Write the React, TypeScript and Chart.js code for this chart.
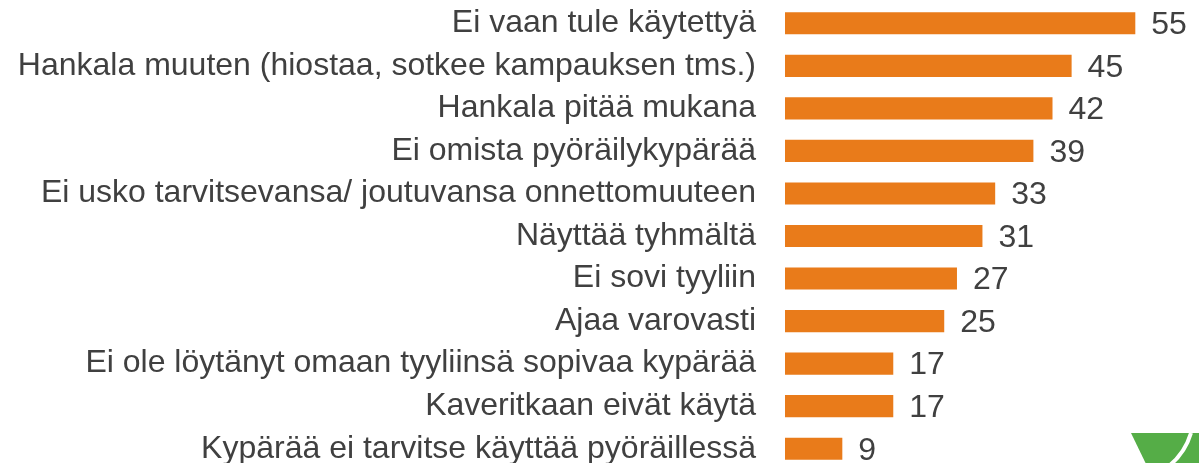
import React, { useEffect, useRef } from "react";
import { Chart, registerables } from "chart.js";

Chart.register(...registerables);

const categories: string[] = [
  "Ei vaan tule käytettyä",
  "Hankala muuten (hiostaa, sotkee kampauksen tms.)",
  "Hankala pitää mukana",
  "Ei omista pyöräilykypärää",
  "Ei usko tarvitsevansa/ joutuvansa onnettomuuteen",
  "Näyttää tyhmältä",
  "Ei sovi tyyliin",
  "Ajaa varovasti",
  "Ei ole löytänyt omaan tyyliinsä sopivaa kypärää",
  "Kaveritkaan eivät käytä",
  "Kypärää ei tarvitse käyttää pyöräillessä",
];

const values: number[] = [55, 45, 42, 39, 33, 31, 27, 25, 17, 17, 9];

const FONT_FAMILY = "'Liberation Sans', Arial, sans-serif";
const FONT_SIZE = 32;
const TEXT_COLOR = "#404040";
const BAR_COLOR = "#E97B1A";

const valueLabelPlugin = {
  id: "valueLabels",
  afterDatasetsDraw(chart: any) {
    const ctx = chart.ctx;
    const meta = chart.getDatasetMeta(0);
    ctx.save();
    ctx.font = `${FONT_SIZE}px ${FONT_FAMILY}`;
    ctx.fillStyle = TEXT_COLOR;
    ctx.textAlign = "left";
    ctx.textBaseline = "middle";
    meta.data.forEach((bar: any, i: number) => {
      ctx.fillText(String(values[i]), bar.x + 16, bar.y + 2);
    });
    ctx.restore();
  },
};

export default function App() {
  const canvasRef = useRef<HTMLCanvasElement | null>(null);

  useEffect(() => {
    if (!canvasRef.current) return;
    const chart = new Chart(canvasRef.current, {
      type: "bar",
      data: {
        labels: categories,
        datasets: [
          {
            data: values,
            backgroundColor: BAR_COLOR,
            borderWidth: 0,
            barPercentage: 0.52,
            categoryPercentage: 1,
          },
        ],
      },
      options: {
        indexAxis: "y",
        animation: false,
        responsive: false,
        maintainAspectRatio: false,
        layout: { autoPadding: false, padding: { top: 2, bottom: 0, left: 0, right: 0 } },
        plugins: {
          legend: { display: false },
          tooltip: { enabled: false },
        },
        scales: {
          x: {
            display: false,
            min: 0,
            max: 65,
          },
          y: {
            grid: { display: false, drawTicks: false },
            border: { display: false },
            ticks: {
              color: TEXT_COLOR,
              font: { family: FONT_FAMILY, size: FONT_SIZE },
              padding: 29,
              autoSkip: false,
            },
            afterFit(scale: any) {
              scale.width = 785;
              scale.paddingTop = 0;
              scale.paddingBottom = 0;
            },
          },
        },
      },
      plugins: [valueLabelPlugin],
    });
    return () => chart.destroy();
  }, []);

  return (
    <div
      style={{
        position: "fixed",
        left: 0,
        top: 0,
        width: 1199,
        height: 463,
        overflow: "hidden",
        background: "#ffffff",
      }}
    >
      <canvas ref={canvasRef} width={1199} height={470} style={{ display: "block" }} />
      <svg
        width={70}
        height={35}
        viewBox="0 0 70 35"
        style={{ position: "absolute", left: 1131, top: 431 }}
      >
        <path d="M0 2 L70 2 L70 35 L16 35 Z" fill="#55AD47" />
        <path d="M60 2 Q54 22 38 35" stroke="#ffffff" strokeWidth={4} fill="none" />
      </svg>
    </div>
  );
}
